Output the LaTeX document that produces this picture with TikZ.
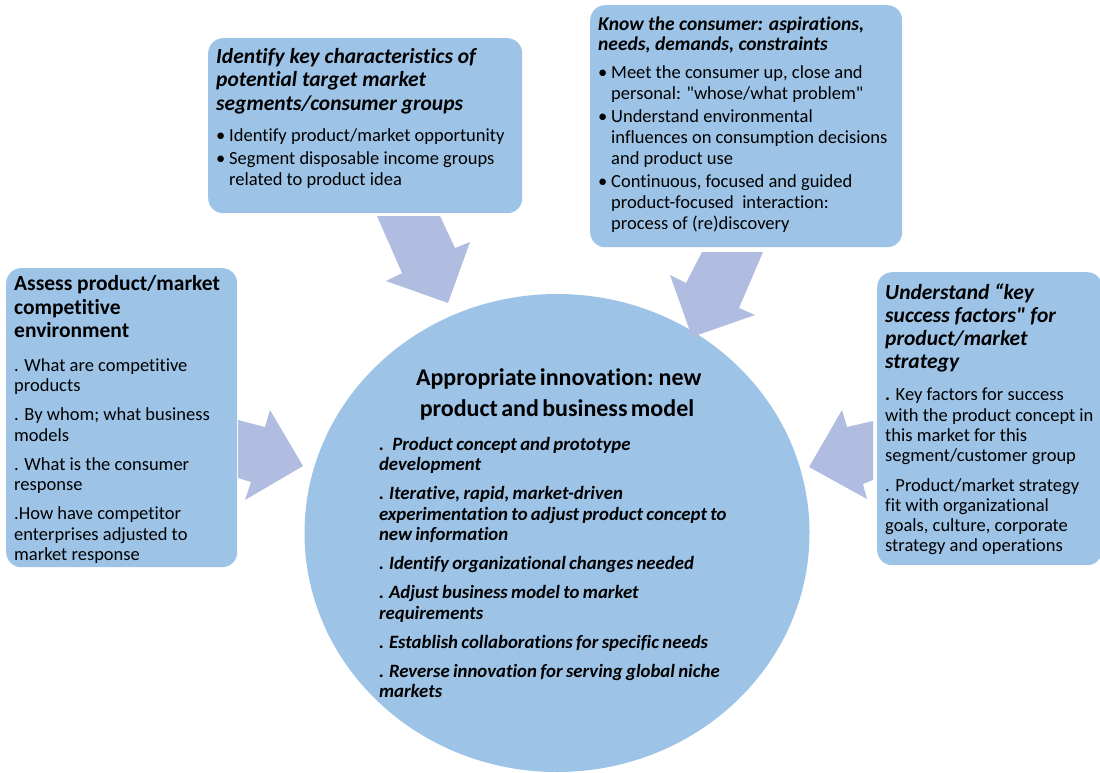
\documentclass[tikz,border=0pt]{standalone}
\usepackage{fontspec}
\newfontfamily\carlito{Carlito}[Ligatures=NoCommon]
\usepackage{tikz}
\usetikzlibrary{shapes.geometric}

\definecolor{boxblue}{HTML}{9DC3E6}
\definecolor{arrowblue}{HTML}{B0BDE0}

\newcommand{\bodyfont}{\fontsize{18.5}{21}\selectfont}
\newcommand{\headfont}{\fontsize{21.5}{23.5}\selectfont\bfseries\itshape}
\newcommand{\bitem}{\par\vspace{2pt}\hangindent=13pt\hangafter=1\noindent\makebox[13pt][l]{\textbullet}}

\begin{document}
\begin{tikzpicture}[x=1pt, y=-1pt,
    infobox/.style={fill=boxblue, rounded corners=15pt, inner xsep=8pt, inner ysep=6pt, anchor=north west, font=\carlito},
    hub/.style={ellipse, fill=boxblue, minimum width=505pt, minimum height=478pt, inner sep=0pt, text width=356pt, align=left, font=\carlito},
    flowarrow/.style={fill=arrowblue}]

    \useasboundingbox (0,0) rectangle (1100,773);

    % centre
    \node[hub] (hub) at (557,533) {%
        \vspace*{6pt}
        {\centering\fontsize{24}{25}\selectfont\bfseries Appropriate innovation: new\\ product and business model\par}
        \vspace{5pt}
        {\fontsize{18.8}{20.5}\selectfont\bfseries\itshape\setlength{\parskip}{8.5pt}
        .~ Product concept and prototype\newline development\par
        . Iterative, rapid, market-driven\newline experimentation to adjust product concept to\newline new information\par
        . Identify organizational changes needed\par
        . Adjust business model to market\newline requirements\par
        . Establish collaborations for specific needs\par
        . Reverse innovation for serving global niche\newline markets\par}};

    % block arrows
    \fill[flowarrow] (377,216) -- (440,216) -- (455,248) -- (470,242) -- (448,303) -- (386,281) -- (402,273) -- cycle; % top left
    \fill[flowarrow] (702,252) -- (763,252) -- (739,308) -- (755,315) -- (692,337) -- (670,275) -- (686,283) -- cycle; % top right
    \fill[flowarrow] (238,420) -- (265,427) -- (270,410) -- (303,466) -- (245,500) -- (251,482) -- (238,478) -- cycle; % left
    \fill[flowarrow] (873,421) -- (847,427) -- (842,410) -- (809,467) -- (867,499) -- (863,484) -- (873,480) -- cycle; % right

    % boxes
    \node[infobox] (segments) at (208,38) {\begin{minipage}[t][163pt][t]{298pt}\raggedright
        \vspace*{4pt}
        {\headfont Identify key characteristics of\newline potential target market\newline segments/consumer groups\par}
        \vspace{8pt}
        {\bodyfont
        \bitem Identify product/market opportunity\par
        \bitem Segment disposable income groups\newline related to product idea\par}
    \end{minipage}};

    \node[infobox] (consumer) at (590,5) {\begin{minipage}[t][230pt][t]{296pt}\raggedright
        \vspace*{6pt}
        {\fontsize{19.5}{20}\selectfont\bfseries\itshape Know the consumer: aspirations,\newline needs, demands, constraints\par}
        \vspace{5pt}
        {\bodyfont
        \bitem Meet the consumer up, close and\newline personal: "whose/what problem"\par
        \bitem Understand environmental\newline influences on consumption decisions\newline and product use\par
        \bitem Continuous, focused and guided\newline product-focused~ interaction:\newline process of (re)discovery\par}
    \end{minipage}};

    \node[infobox] (compet) at (6,268) {\begin{minipage}[t][287pt][t]{215pt}\raggedright
        \vspace*{1.5pt}
        {\fontsize{21.5}{23.5}\selectfont\bfseries Assess product/market\newline competitive\newline environment\par}
        \vspace{4.5pt}
        {\fontsize{18.5}{20.5}\selectfont\setlength{\parskip}{8.5pt}
        . What are competitive\newline products\par
        . By whom; what business\newline models\par
        . What is the consumer\newline response\par
        .How have competitor\newline enterprises adjusted to\newline market response\par}
    \end{minipage}};

    \node[infobox] (success) at (877,272) {\begin{minipage}[t][281pt][t]{209pt}\raggedright
        \vspace*{5pt}
        {\fontsize{21.5}{23}\selectfont\bfseries\itshape Understand “key\newline success factors" for\newline product/market\newline strategy\par}
        \vspace{3.5pt}
        {\fontsize{18.5}{20.3}\selectfont\setlength{\parskip}{9pt}
        \textbf{.} Key factors for success\newline with~the~product~concept~in\newline this market for this\newline segment/customer group\par
        . Product/market strategy\newline fit with organizational\newline goals, culture, corporate\newline strategy and operations\par}
    \end{minipage}};
\end{tikzpicture}
\end{document}
